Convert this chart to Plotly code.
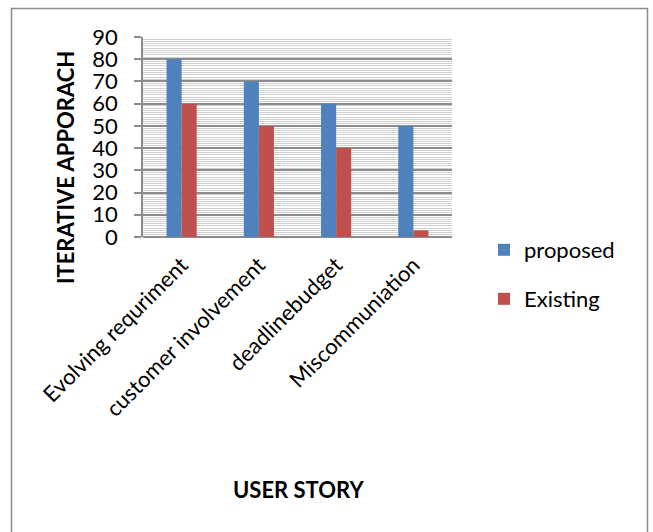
import plotly.graph_objects as go

categories = ["Evolving requriment", "customer involvement", "deadlinebudget", "Miscommuniation"]
proposed = [80, 70, 60, 50]
existing = [60, 50, 40, 3]
y_ticks = [0, 10, 20, 30, 40, 50, 60, 70, 80, 90]

FONT = "Lato"
L, R, T, B = 143, 452, 37, 237
W, H = 653, 532

def px_x(p):
    return (p - L) / (R - L)

def px_y(p):
    return (B - p) / (B - T)

fig = go.Figure()
fig.add_trace(go.Bar(x=categories, y=proposed, name="proposed", marker_color="#4F81BD",
                     marker_line_width=0, legend="legend", showlegend=True))
fig.add_trace(go.Bar(x=categories, y=existing, name="Existing", marker_color="#C0504D",
                     marker_line_width=0, legend="legend2", showlegend=True))

leg_common = dict(xanchor="left", yanchor="top", itemwidth=30,
                  font=dict(size=22, family=FONT), bgcolor="rgba(0,0,0,0)")

fig.update_layout(
    width=W, height=H,
    margin=dict(l=L, r=W - R, t=T, b=H - B, autoexpand=False),
    paper_bgcolor="white", plot_bgcolor="white",
    font=dict(family=FONT, color="black"),
    barmode="group", bargap=0.61, bargroupgap=0,
    showlegend=True,
    legend=dict(x=px_x(484), y=px_y(229), **leg_common),
    legend2=dict(x=px_x(484), y=px_y(278), **leg_common),
    xaxis=dict(tickangle=-45, tickfont=dict(size=22, family=FONT), showline=False,
               showgrid=False, ticks="", automargin=False, ticklabelstandoff=10),
    yaxis=dict(range=[0, 90], tickvals=y_ticks, tickfont=dict(size=22, family=FONT),
               showline=True, linecolor="#8c8c8c", linewidth=1.5,
               ticks="outside", ticklen=7, tickcolor="#8c8c8c", tickwidth=1.5,
               ticklabelstandoff=12,
               showgrid=True, gridcolor="#8c8c8c", gridwidth=1.5,
               minor=dict(dtick=1, showgrid=True, gridcolor="#cfcfcf", gridwidth=1),
               zeroline=True, zerolinecolor="#8c8c8c", zerolinewidth=1.5,
               automargin=False),
    annotations=[
        dict(text="<b>ITERATIVE APPORACH</b>", xref="paper", yref="paper",
             x=px_x(65), y=px_y(168), textangle=-90, showarrow=False,
             font=dict(size=22, family=FONT), xanchor="center", yanchor="middle"),
        dict(text="<b>USER STORY</b>", xref="paper", yref="paper",
             x=px_x(298), y=px_y(490), showarrow=False,
             font=dict(size=22, family=FONT), xanchor="center", yanchor="middle"),
    ],
    shapes=[
        dict(type="rect", xref="paper", yref="paper",
             x0=px_x(11.5), x1=px_x(647.5), y0=px_y(540), y1=px_y(8.5),
             line=dict(color="#8c8c8c", width=1.5), fillcolor="rgba(0,0,0,0)", layer="above"),
    ],
)

fig.write_html("out.html")
